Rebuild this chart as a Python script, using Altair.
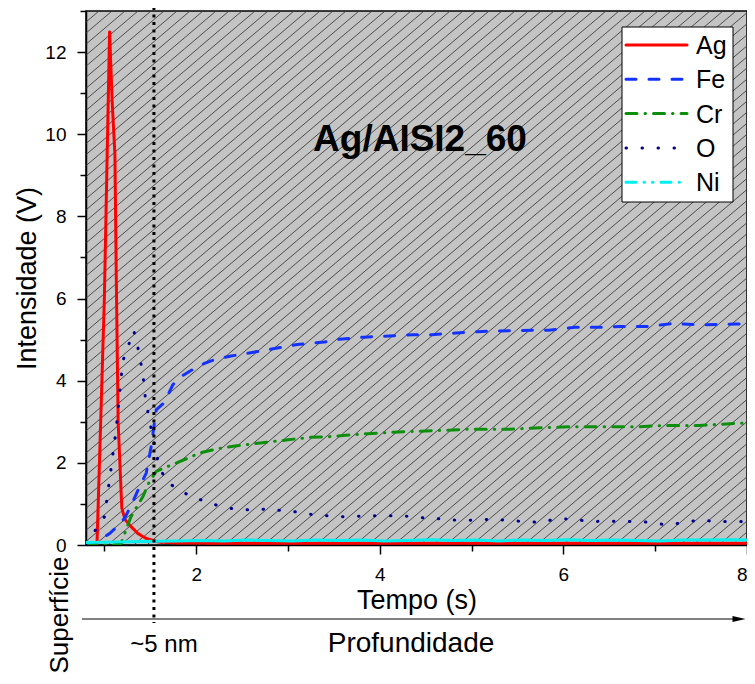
import altair as alt
import pandas as pd
import numpy as np

# ---------------- data ----------------
elements = ["Ag", "Fe", "Cr", "O", "Ni"]
colors = ["#ff0000", "#1432ff", "#0c8f0c", "#000090", "#00f0f0"]
dashes = [[1, 0], [10, 13], [11, 8, 0.5, 8], [0.5, 15.5], [10, 8, 0.5, 8, 0.5, 8]]

ag_x = [0.90, 0.92, 0.96, 1.00, 1.035, 1.057, 1.085, 1.115, 1.13, 1.15, 1.19, 1.225,
        1.29, 1.365, 1.456, 1.53, 1.60, 1.8, 2.5, 3.5, 4.5, 5.5, 6.5, 7.5, 8.0]
ag_y = [0.03, 0.05, 3.0, 6.0, 10.0, 12.5, 10.8, 9.5, 6.5, 3.0, 0.9, 0.62,
        0.45, 0.28, 0.16, 0.11, 0.07, 0.05, 0.04, 0.04, 0.04, 0.04, 0.04, 0.04, 0.04]

fe_x = [0.80, 0.90, 1.057, 1.14, 1.22, 1.30, 1.383, 1.456, 1.51, 1.565,
        1.655, 1.745, 1.85, 1.96, 2.09, 2.22, 2.38, 2.54, 2.82, 3.10,
        3.40, 3.56, 3.83, 4.10, 4.36, 4.57, 4.83, 5.12, 5.45, 5.84,
        6.13, 6.42, 6.62, 6.91, 7.19, 7.48, 7.88, 8.0]
fe_y = [0.0, 0.05, 0.28, 0.45, 0.65, 1.0, 1.42, 1.75, 2.4, 3.29,
        3.47, 3.9, 4.12, 4.27, 4.42, 4.53, 4.60, 4.66, 4.77, 4.88,
        4.94, 5.01, 5.06, 5.09, 5.12, 5.12, 5.16, 5.20, 5.22, 5.23,
        5.30, 5.30, 5.32, 5.32, 5.39, 5.36, 5.38, 5.38]

cr_x = [0.80, 1.10, 1.18, 1.29, 1.42, 1.49, 1.565, 1.70, 1.82, 2.04,
        2.25, 2.42, 2.72, 3.00, 3.23, 3.41, 3.63, 3.87, 4.09, 4.30,
        4.68, 4.97, 5.41, 5.83, 6.06, 6.46, 6.82, 7.11, 7.48, 7.88, 8.0]
cr_y = [0.0, 0.0, 0.03, 0.69, 1.18, 1.54, 1.79, 1.92, 2.03, 2.24,
        2.35, 2.41, 2.49, 2.56, 2.62, 2.63, 2.67, 2.71, 2.74, 2.76,
        2.79, 2.82, 2.82, 2.86, 2.88, 2.88, 2.88, 2.91, 2.91, 2.96, 2.97]

o_x = [0.80, 0.817, 1.002, 1.067, 1.13, 1.20, 1.32, 1.375, 1.42, 1.445,
       1.484, 1.53, 1.593, 1.674, 1.82, 1.957, 2.11, 2.27, 2.435, 2.62,
       2.79, 2.95, 3.12, 3.29, 3.45, 3.66, 3.82, 3.99, 4.15, 4.32,
       4.52, 4.72, 4.88, 5.06, 5.22, 5.40, 5.57, 5.75, 5.93, 6.12,
       6.28, 6.46, 6.62, 6.79, 6.96, 7.12, 7.30, 7.48, 7.67, 7.85, 8.0]
o_y = [0.03, 0.08, 0.69, 1.76, 2.85, 4.47, 5.22, 4.71, 4.14, 3.62,
       3.10, 2.61, 1.95, 1.54, 1.34, 1.16, 1.06, 0.93, 0.87, 0.85,
       0.88, 0.83, 0.80, 0.73, 0.71, 0.68, 0.71, 0.71, 0.71, 0.70,
       0.65, 0.63, 0.59, 0.61, 0.63, 0.60, 0.57, 0.55, 0.64, 0.63,
       0.57, 0.58, 0.58, 0.57, 0.55, 0.49, 0.54, 0.61, 0.57, 0.57, 0.57]

ni_x = [0.80, 1.05, 1.30, 1.55, 1.80, 2.05, 2.30, 2.55, 2.80, 3.05,
        3.30, 3.55, 3.80, 4.05, 4.30, 4.55, 4.80, 5.05, 5.30, 5.55,
        5.80, 6.05, 6.30, 6.55, 6.80, 7.05, 7.30, 7.55, 7.80, 8.0]
ni_y = [0.06, 0.07, 0.08, 0.09, 0.10, 0.11, 0.10, 0.12, 0.11, 0.10,
        0.12, 0.11, 0.12, 0.10, 0.11, 0.13, 0.11, 0.12, 0.10, 0.12,
        0.11, 0.13, 0.11, 0.12, 0.11, 0.10, 0.12, 0.12, 0.13, 0.12]

marker_x = [1.54]
x_ticks = [1, 2, 3, 4, 5, 6, 7, 8]
y_ticks = list(range(0, 14))

# ---------------- layout ----------------
FONT = "Liberation Sans"
X0, X1, Y0, Y1 = 0.8, 8.0, 0.0, 13.0
W, H = 661, 534

rows = []
for name, xs_, ys_ in [("Ag", ag_x, ag_y), ("Fe", fe_x, fe_y), ("Cr", cr_x, cr_y), ("O", o_x, o_y)]:
    for i, (a, b) in enumerate(zip(xs_, ys_)):
        rows.append({"el": name, "t": a, "v": b, "i": i})
lines_df = pd.DataFrame(rows)
ni_df = pd.DataFrame({"t": ni_x, "v": ni_y, "i": range(len(ni_x))})
mark_df = pd.DataFrame({"t": marker_x})
one = pd.DataFrame({"a": [0]})

# hatch background (decoration)
slope_px, gap_px = 0.85, 13.0
px_per_x = W / (X1 - X0)
span = (H / slope_px) / px_per_x
step = gap_px / px_per_x
starts = np.arange(X0 - span - step, X1 + step, step)
hatch_df = pd.DataFrame({"hx": starts, "hx2": starts + span, "hy": Y0, "hy2": Y1})

xscale = alt.Scale(domain=[X0, X1], nice=False, zero=False)
yscale = alt.Scale(domain=[Y0, Y1], nice=False, zero=False)

ax_x = alt.Axis(
    values=x_ticks, title="Tempo (s)",
    labelExpr="datum.value % 2 === 0 ? datum.label : ''",
    tickSize={"condition": {"test": "datum.value % 2 === 0", "value": 9}, "value": 6},
    labelPadding=11, labelFontSize=19, labelFont=FONT, labelColor="black",
    titleFontSize=27, titleFont=FONT, titleFontWeight="normal", titleColor="black",
    titleX=W / 2, titleY=63, titleBaseline="alphabetic", titleAnchor="middle",
    grid=False, domainColor="black", domainWidth=1.5, tickColor="black", tickWidth=1.5,
    labelFlush=True, labelOverlap=False,
)
ax_y = alt.Axis(
    values=y_ticks, title="Intensidade (V)",
    labelExpr="datum.value % 2 === 0 ? datum.label : ''",
    tickSize={"condition": {"test": "datum.value % 2 === 0", "value": 9}, "value": 6},
    labelPadding=11, labelFontSize=19, labelFont=FONT, labelColor="black",
    titleFontSize=27, titleFont=FONT, titleFontWeight="normal", titleColor="black",
    titleX=-51, titleY=H / 2, titleBaseline="alphabetic", titleAngle=270, titleAnchor="middle",
    grid=False, domainColor="black", domainWidth=1.5, tickColor="black", tickWidth=1.5,
    labelFlush=False, labelOverlap=False,
)

hatch = alt.Chart(hatch_df).mark_rule(clip=True, color="#383838", strokeWidth=0.85).encode(
    x=alt.X("hx:Q", scale=xscale, axis=ax_x),
    x2="hx2",
    y=alt.Y("hy:Q", scale=yscale, axis=ax_y),
    y2="hy2",
)

lines = alt.Chart(lines_df).mark_line(strokeWidth=3, strokeCap="round", clip=True).encode(
    x=alt.X("t:Q", scale=xscale, axis=ax_x),
    y=alt.Y("v:Q", scale=yscale, axis=ax_y),
    color=alt.Color("el:N", scale=alt.Scale(domain=elements, range=colors), legend=None),
    strokeDash=alt.StrokeDash("el:N", scale=alt.Scale(domain=elements, range=dashes), legend=None),
    order=alt.Order("i:Q"),
)

ni_line = alt.Chart(ni_df).mark_line(strokeWidth=3, color=colors[4], clip=True).encode(
    x=alt.X("t:Q", scale=xscale, axis=ax_x),
    y=alt.Y("v:Q", scale=yscale, axis=ax_y),
    order=alt.Order("i:Q"),
)

vline = alt.Chart(mark_df).mark_rule(color="black", strokeWidth=3, strokeDash=[3, 4.5]).encode(
    x=alt.X("t:Q", scale=xscale, axis=ax_x),
    y=alt.value(-4),
    y2=alt.value(612),
)

# ----- legend box drawn by hand (Origin-style) -----
LX0, LX1, LY0, LY1 = 536, 647, 16, 191
leg_box = alt.Chart(one).mark_rect(fill="white", stroke="black", strokeWidth=1).encode(
    x=alt.value(LX0), x2=alt.value(LX1), y=alt.value(LY0), y2=alt.value(LY1)
)
leg_layers = [leg_box]
for k, (name, col, dsh) in enumerate(zip(elements, colors, dashes)):
    yy = 34 + k * 34.3
    leg_layers.append(
        alt.Chart(one).mark_rule(color=col, strokeWidth=3, strokeDash=dsh, strokeCap="round").encode(
            x=alt.value(540), x2=alt.value(601), y=alt.value(yy)
        )
    )
    leg_layers.append(
        alt.Chart(one).mark_text(
            text=name, font=FONT, fontSize=25, color="black", align="left", baseline="middle"
        ).encode(x=alt.value(610), y=alt.value(yy + 1))
    )

title_txt = alt.Chart(one).mark_text(
    text="Ag/AISI2_60", font=FONT, fontSize=37, fontWeight="bold", color="black",
    align="center", baseline="middle",
).encode(x=alt.value(334), y=alt.value(129))

arrow_line = alt.Chart(one).mark_rule(color="black", strokeWidth=1).encode(
    x=alt.value(-4), x2=alt.value(650), y=alt.value(608)
)
arrow_head = alt.Chart(one).mark_point(
    shape="M-1,-0.45L1,0L-1,0.45Z", size=169, filled=True, color="black", opacity=1
).encode(x=alt.value(653), y=alt.value(608))

prof_txt = alt.Chart(one).mark_text(
    text="Profundidade", font=FONT, fontSize=28, color="black", align="center", baseline="alphabetic"
).encode(x=alt.value(325), y=alt.value(641))

nm_txt = alt.Chart(one).mark_text(
    text="~5 nm", font=FONT, fontSize=24, color="black", align="center", baseline="alphabetic"
).encode(x=alt.value(78), y=alt.value(641))

sup_txt = alt.Chart(one).mark_text(
    text="Superfície", font=FONT, fontSize=26, color="black", align="center",
    baseline="alphabetic", angle=270
).encode(x=alt.value(-18), y=alt.value(604))

chart = alt.layer(
    hatch, lines, ni_line, vline, title_txt, arrow_line, arrow_head, prof_txt, nm_txt, sup_txt,
    *leg_layers
).properties(
    width=W, height=H,
    padding={"left": 78, "top": 3, "right": 0, "bottom": 131},
    autosize=alt.AutoSizeParams(type="none"),
).configure_view(
    fill="#c4c4c4", stroke="black", strokeWidth=1.5
)

chart.save("out.html", embed_options={"renderer": "svg", "actions": False})
